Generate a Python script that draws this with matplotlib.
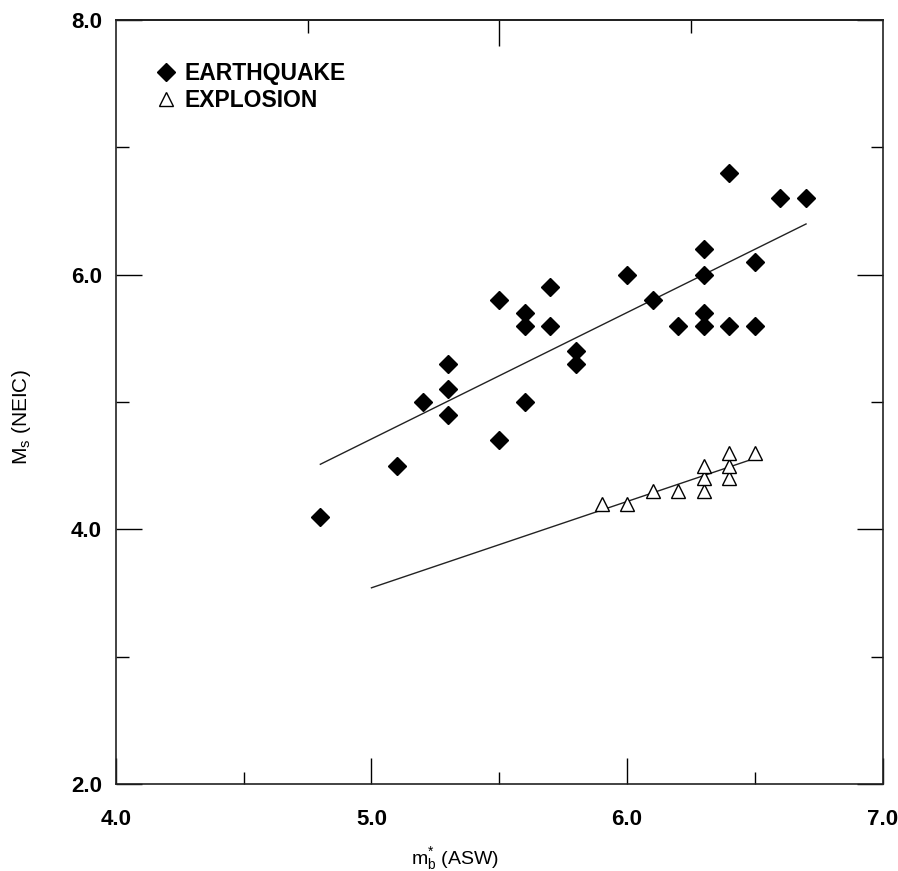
import numpy as np
import matplotlib
matplotlib.use("Agg")
import matplotlib.pyplot as plt
from matplotlib.ticker import MultipleLocator, FixedLocator, NullFormatter

plt.rcParams['font.family'] = ['Liberation Sans', 'DejaVu Sans']
plt.rcParams['mathtext.fontset'] = 'custom'
plt.rcParams['mathtext.rm'] = 'Liberation Sans'
plt.rcParams['mathtext.it'] = 'Liberation Sans:italic'

# earthquakes: mb* (ASW) vs Ms (NEIC)
eq_mb = [4.8, 5.1, 5.2, 5.3, 5.3, 5.3, 5.5, 5.5, 5.6, 5.6, 5.6, 5.7, 5.7, 5.8,
         5.8, 6.0, 6.1, 6.2, 6.3, 6.3, 6.3, 6.3, 6.4, 6.4, 6.5, 6.5, 6.6, 6.7]
eq_ms = [4.1, 4.5, 5.0, 5.3, 5.1, 4.9, 4.7, 5.8, 5.7, 5.6, 5.0, 5.9, 5.6, 5.4,
         5.3, 6.0, 5.8, 5.6, 5.7, 5.6, 6.0, 6.2, 5.6, 6.8, 5.6, 6.1, 6.6, 6.6]

# explosions
ex_mb = [5.9, 6.0, 6.1, 6.2, 6.3, 6.3, 6.3, 6.4, 6.4, 6.4, 6.5]
ex_ms = [4.2, 4.2, 4.3, 4.3, 4.3, 4.4, 4.5, 4.4, 4.5, 4.6, 4.6]

# x span over which each fitted line is drawn
eq_fit_span = [4.8, 6.7]
ex_fit_span = [5.0, 6.5]

fig = plt.figure(figsize=(8.98, 8.71), dpi=100)
ax = fig.add_axes([0.129, 0.100, 0.854, 0.877])

# regression lines
p_eq = np.polyfit(eq_mb, eq_ms, 1)
p_ex = np.polyfit(ex_mb, ex_ms, 1)
xs = np.array(eq_fit_span)
ax.plot(xs, np.polyval(p_eq, xs), color='#222222', lw=1.0, zorder=2)
xs = np.array(ex_fit_span)
ax.plot(xs, np.polyval(p_ex, xs), color='#222222', lw=1.0, zorder=2)

ax.plot(eq_mb, eq_ms, 'D', ms=9, color='black', label='EARTHQUAKE', zorder=3)
ax.plot(ex_mb, ex_ms, '^', ms=10.5, mfc='white', mec='black', mew=1.0,
        label='EXPLOSION', zorder=3)

ax.set_xlim(4.0, 7.0)
ax.set_ylim(2.0, 8.0)
ax.xaxis.set_major_locator(MultipleLocator(1.0))
ax.xaxis.set_minor_locator(MultipleLocator(0.5))
ax.yaxis.set_major_locator(MultipleLocator(2.0))
ax.yaxis.set_minor_locator(MultipleLocator(1.0))
ax.xaxis.set_major_formatter(plt.FormatStrFormatter('%.1f'))
ax.yaxis.set_major_formatter(plt.FormatStrFormatter('%.1f'))

ax.tick_params(which='major', direction='in', length=19, width=1.0,
               labelsize=16, pad=10, bottom=True, left=True, right=True, top=False)
ax.tick_params(which='minor', direction='in', length=9, width=1.0,
               bottom=True, left=True, right=True, top=False)
ax.tick_params(axis='x', which='major', pad=18)
for lab in ax.get_xticklabels() + ax.get_yticklabels():
    lab.set_fontweight('bold')

# odd tick marks along the top edge
top = ax.secondary_xaxis('top')
top.xaxis.set_major_locator(FixedLocator([5.5]))
top.xaxis.set_minor_locator(FixedLocator([4.75, 6.25]))
top.xaxis.set_major_formatter(NullFormatter())
top.tick_params(which='major', direction='in', length=19, width=1.0)
top.tick_params(which='minor', direction='in', length=9, width=1.0)
top.spines['top'].set_linewidth(1.2)

for s in ax.spines.values():
    s.set_linewidth(1.2)
    s.set_color('#222222')

ax.set_xlabel(r'$\mathrm{m}_\mathrm{b}^{*}$ (ASW)', fontsize=14)
ax.set_ylabel(r'M$_\mathrm{s}$ (NEIC)', fontsize=15)
ax.xaxis.set_label_coords(0.442, -0.08)
ax.yaxis.set_label_coords(-0.108, 0.48)

leg = ax.legend(loc='upper left', bbox_to_anchor=(0.022, 0.972), frameon=False,
                prop={'weight': 'bold', 'size': 16.5}, handletextpad=0.25,
                labelspacing=0.17, handlelength=1.1, numpoints=1)

fig.savefig('out.png', dpi=100)
